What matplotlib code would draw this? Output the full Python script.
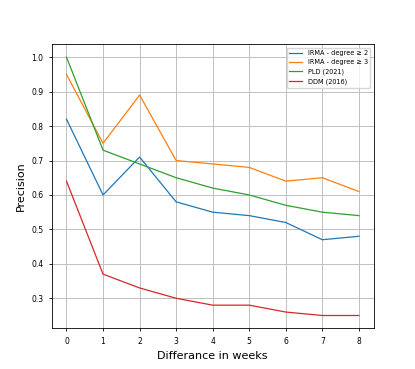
import numpy as np
import matplotlib
matplotlib.use("Agg")
import matplotlib.pyplot as plt

weeks = [0, 1, 2, 3, 4, 5, 6, 7, 8]
irma2 = [0.82, 0.60, 0.71, 0.58, 0.55, 0.54, 0.52, 0.47, 0.48]
irma3 = [0.95, 0.75, 0.89, 0.70, 0.69, 0.68, 0.64, 0.65, 0.61]
pld = [1.00, 0.73, 0.69, 0.65, 0.62, 0.60, 0.57, 0.55, 0.54]
ddm = [0.64, 0.37, 0.33, 0.30, 0.28, 0.28, 0.26, 0.25, 0.25]

fig = plt.figure(figsize=(4.15, 3.69), dpi=100)
ax = fig.add_subplot(111)
ax.plot(weeks, irma2, color="tab:blue", lw=0.9, label="IRMA - degree \u2265 2")
ax.plot(weeks, irma3, color="tab:orange", lw=0.9, label="IRMA - degree \u2265 3")
ax.plot(weeks, pld, color="tab:green", lw=0.9, label="PLD (2021)")
ax.plot(weeks, ddm, color="tab:red", lw=0.9, label="DDM (2016)")

ax.set_xlabel("Differance in weeks", fontsize=8)
ax.set_ylabel("Precision", fontsize=8)
ax.tick_params(labelsize=5.5, width=0.6, length=2.5)
ax.grid(True, lw=0.7, color="#c0c0c0")
for s in ax.spines.values():
    s.set_linewidth(0.6)
ax.legend(loc="upper right", fontsize=4.7)

fig.savefig("out.png", dpi=100)
